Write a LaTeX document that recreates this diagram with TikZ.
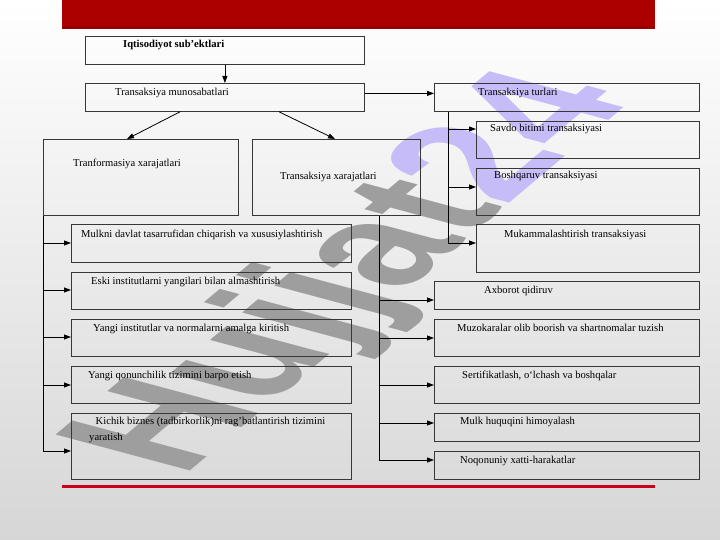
\documentclass[tikz,border=0pt]{standalone}
\usepackage{fontspec}
\setmainfont{Liberation Serif}
\newfontfamily\wmfont{Liberation Sans}
\usetikzlibrary{arrows.meta}
\definecolor{barred}{RGB}{172,0,0}
\definecolor{bardark}{RGB}{150,0,0}
\definecolor{linered}{RGB}{200,0,30}
\definecolor{boxline}{RGB}{55,55,55}
\definecolor{wmgray}{RGB}{158,158,158}
\definecolor{wmpurple}{RGB}{198,188,248}
\definecolor{bgbottom}{RGB}{214,214,214}
\begin{document}
\begin{tikzpicture}[x=1pt,y=-1pt,
  box/.style={draw=boxline, line width=0.8pt, inner sep=0pt, anchor=north west},
  lbl/.style={anchor=base west, inner sep=0pt, font=\fontsize{10.6}{12.5}\selectfont},
  bus/.style={draw=black, line width=0.8pt},
  arr/.style={bus, -{Triangle[length=7pt,width=5pt]}}]
\useasboundingbox (0,0) rectangle (720,540);
\shade[top color=white, bottom color=bgbottom] (0,0) rectangle (720,540);
\fill[barred] (62,0) rectangle (655,29);
\fill[bardark] (62,26) rectangle (655,29);
\fill[linered] (62,485) rectangle (655,487.5);
% watermark
\begin{scope}[shift={(182,478)}, cm={1.164,0.977,-1.951,0.523,(0,0)}]
\node[transform shape, anchor=base west, inner sep=0pt, font=\wmfont\bfseries\fontsize{100}{100}\selectfont] (wm) {\textcolor{wmgray}{Hujjat}\textcolor{wmpurple}{24}};
\end{scope}
% boxes
\node[box, minimum width=279, minimum height=28] (b1) at (85,36) {};
\node[box, minimum width=279, minimum height=28] (b2) at (85,83) {};
\node[box, minimum width=265, minimum height=28] (b3) at (434,83) {};
\node[box, minimum width=195, minimum height=76] (b4) at (43,139) {};
\node[box, minimum width=168, minimum height=76] (b5) at (252,139) {};
\node[box, minimum width=223, minimum height=37] (b6) at (476,121) {};
\node[box, minimum width=223, minimum height=47] (b7) at (476,168) {};
\node[box, minimum width=223, minimum height=48] (b8) at (476,224) {};
\node[box, minimum width=280, minimum height=38] (b9) at (71,224) {};
\node[box, minimum width=280, minimum height=37] (b10) at (71,272) {};
\node[box, minimum width=280, minimum height=37] (b11) at (71,319) {};
\node[box, minimum width=280, minimum height=37] (b12) at (71,366) {};
\node[box, minimum width=280, minimum height=66] (b13) at (71,413) {};
\node[box, minimum width=265, minimum height=28] (b14) at (434,281) {};
\node[box, minimum width=265, minimum height=37] (b15) at (434,319) {};
\node[box, minimum width=265, minimum height=37] (b16) at (434,366) {};
\node[box, minimum width=265, minimum height=28] (b17) at (434,413) {};
\node[box, minimum width=265, minimum height=28] (b18) at (434,451) {};
% texts
\node[lbl, font=\fontsize{10.6}{12.5}\selectfont\bfseries] (t1) at (123,47.5) {Iqtisodiyot sub’ektlari};
\node[lbl] (t2) at (115,95.5) {Transaksiya munosabatlari};
\node[lbl] (t3) at (478,95.5) {Transaksiya turlari};
\node[lbl] (t4) at (73,166.5) {Tranformasiya xarajatlari};
\node[lbl] (t5) at (280,180) {Transaksiya xarajatlari};
\node[lbl] (t6) at (490,132) {Savdo bitimi transaksiyasi};
\node[lbl] (t7) at (494,179) {Boshqaruv transaksiyasi};
\node[lbl] (t8) at (504,237) {Mukammalashtirish transaksiyasi};
\node[lbl] (t9) at (81,237) {Mulkni davlat tasarrufidan chiqarish va xususiylashtirish};
\node[lbl] (t10) at (91,284) {Eski institutlarni yangilari bilan almashtirish};
\node[lbl] (t11) at (93,331) {Yangi institutlar va normalarni amalga kiritish};
\node[lbl] (t12) at (88,378) {Yangi qonunchilik tizimini barpo etish};
\node[lbl] (t13a) at (95.5,424.5) {Kichik biznes (tadbirkorlik)ni rag’batlantirish tizimini};
\node[lbl] (t13b) at (89,440) {yaratish};
\node[lbl] (t14) at (484,293) {Axborot qidiruv};
\node[lbl] (t15) at (457,331) {Muzokaralar olib boorish va shartnomalar tuzish};
\node[lbl] (t16) at (462,378) {Sertifikatlash, o‘lchash va boshqalar};
\node[lbl] (t17) at (460,424.5) {Mulk huquqini himoyalash};
\node[lbl] (t18) at (460,463) {Noqonuniy xatti-harakatlar};
% connectors
\draw[arr] (b1.south) -- (b2.north);
\draw[arr] ([yshift=4pt]b2.east) -- ([yshift=4pt]b3.west);
\draw[arr] ([xshift=95pt]b2.south west) -- ([xshift=84pt]b4.north west);
\draw[arr] ([xshift=194pt]b2.south west) -- ([xshift=83pt]b5.north west);
% right bus
\coordinate (rtop) at ([xshift=14pt]b3.south west);
\draw[bus] (rtop) -- (448,243);
\foreach \yy/\bb in {129/b6,187/b7,243/b8} \draw[arr] (448,\yy) -- (\bb.west |- 448,\yy);
% left bus
\draw[bus] (b4.south west) -- (43,451);
\foreach \yy/\bb in {243/b9,290/b10,337/b11,385/b12,451/b13} \draw[arr] (43,\yy) -- (\bb.west |- 43,\yy);
% middle bus
\coordinate (mtop) at ([xshift=127pt]b5.south west);
\draw[bus] (mtop) -- (379,460);
\foreach \yy/\bb in {300/b14,338/b15,385/b16,423/b17,460/b18} \draw[arr] (379,\yy) -- (\bb.west |- 379,\yy);
\end{tikzpicture}
\end{document}
